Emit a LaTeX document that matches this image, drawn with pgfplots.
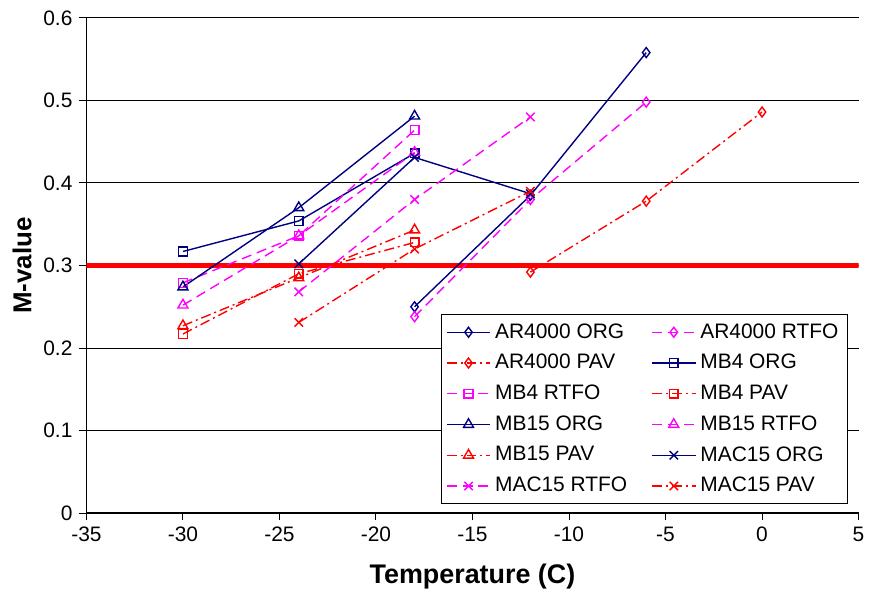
\documentclass[border=0pt]{standalone}
\usepackage{pgfplots}
\pgfplotsset{compat=1.18}
\usepackage{fontspec}
\setmainfont{Liberation Sans}
\definecolor{navy}{RGB}{0,0,128}
\definecolor{mag}{RGB}{255,0,255}
\definecolor{rd}{RGB}{255,0,0}
\begin{document}
\begin{tikzpicture}
\begin{axis}[
    scale only axis,
    width=387.5pt, height=248.5pt,
    xmin=-35, xmax=5, ymin=0, ymax=0.6,
    xtick={-35,-30,...,5}, ytick={0,0.1,...,0.6},
    yticklabel style={/pgf/number format/fixed, /pgf/number format/precision=1},
    /pgf/number format/assume math mode=true,
    axis x line*=bottom, axis y line*=left,
    axis line style={black, line width=0.6pt},
    tick align=outside, tick style={black, line width=0.5pt},
    major tick length=3.5pt,
    ymajorgrids, grid style={black, line width=0.5pt},
    tick label style={font=\fontsize{10.5}{12}\selectfont},
    xlabel={\textbf{Temperature (C)}},
    ylabel={\textbf{M-value}},
    xlabel style={font=\fontsize{13.5}{15}\selectfont, yshift=-4pt},
    ylabel style={font=\fontsize{13}{15}\selectfont, yshift=-1pt},
    legend columns=2,
    legend style={at={(0.986,0.018)}, anchor=south east, draw=black,
        font=\fontsize{10.5}{12}\selectfont, row sep=2.6pt,
        /tikz/every even column/.append style={column sep=10pt},
        inner sep=2.5pt},
    legend cell align=left,
    legend image code/.code={
        \draw[mark repeat=2,mark phase=2] plot coordinates {(0pt,0pt)(11pt,0pt)(22pt,0pt)};},
    mark size=2.5pt,
    every axis plot/.append style={line width=0.7pt},
    rtfo/.style={mag, dash pattern=on 5pt off 3pt, mark options={solid}},
    pav/.style={rd, dash pattern=on 5pt off 2pt on 1pt off 2pt, mark options={solid}},
    org/.style={navy, mark options={solid}},
    sq/.style={mark=square, mark size=2.2pt},
    tri/.style={mark=triangle, mark size=2.9pt},
]
\addplot[rd, line width=2.2pt, forget plot] coordinates {(-35,0.3)(5,0.3)};
% AR4000
\addplot[org, mark=diamond] coordinates {(-18,0.250)(-12,0.385)(-6,0.558)};
\addlegendentry{AR4000 ORG}
\addplot[rtfo, mark=diamond] coordinates {(-18,0.238)(-12,0.380)(-6,0.498)};
\addlegendentry{AR4000 RTFO}
\addplot[pav, mark=diamond] coordinates {(-12,0.292)(-6,0.378)(0,0.486)};
\addlegendentry{AR4000 PAV}
% MB4
\addplot[org, sq] coordinates {(-30,0.317)(-24,0.354)(-18,0.436)};
\addlegendentry{MB4 ORG}
\addplot[rtfo, sq] coordinates {(-30,0.279)(-24,0.336)(-18,0.464)};
\addlegendentry{MB4 RTFO}
\addplot[pav, sq] coordinates {(-30,0.217)(-24,0.290)(-18,0.328)};
\addlegendentry{MB4 PAV}
% MB15
\addplot[org, tri] coordinates {(-30,0.274)(-24,0.370)(-18,0.481)};
\addlegendentry{MB15 ORG}
\addplot[rtfo, tri] coordinates {(-30,0.252)(-24,0.336)(-18,0.437)};
\addlegendentry{MB15 RTFO}
\addplot[pav, tri] coordinates {(-30,0.227)(-24,0.285)(-18,0.343)};
\addlegendentry{MB15 PAV}
% MAC15
\addplot[org, mark=x, mark size=3pt] coordinates {(-24,0.302)(-18,0.431)(-12,0.387)};
\addlegendentry{MAC15 ORG}
\addplot[rtfo, mark=x, mark size=3pt] coordinates {(-24,0.268)(-18,0.380)(-12,0.480)};
\addlegendentry{MAC15 RTFO}
\addplot[pav, mark=x, mark size=3pt] coordinates {(-24,0.231)(-18,0.320)(-12,0.390)};
\addlegendentry{MAC15 PAV}
\end{axis}
\path (current axis.north) ++(0,9pt);
\path (current axis.outer west) ++(-3pt,0);
\end{tikzpicture}
\end{document}
